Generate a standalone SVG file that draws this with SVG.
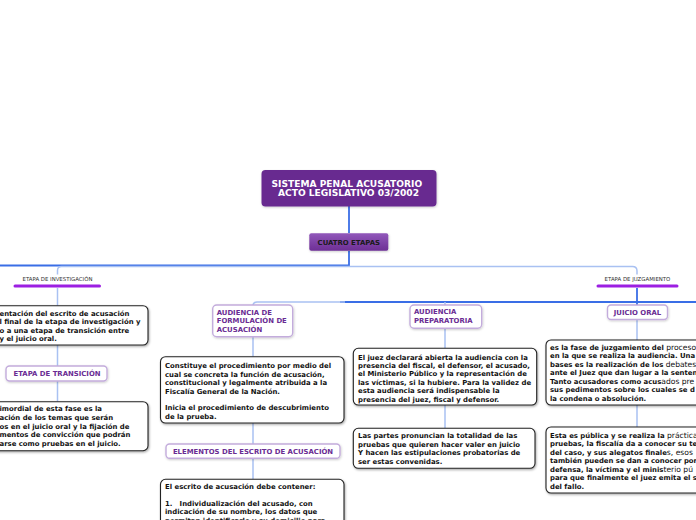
<svg xmlns="http://www.w3.org/2000/svg" width="696" height="520" viewBox="0 0 696 520">
<defs>
<linearGradient id="gc" x1="0" y1="0" x2="0" y2="1"><stop offset="0" stop-color="#9157ba"/><stop offset="1" stop-color="#6d2f95"/></linearGradient>
<filter id="sh" x="-10%" y="-10%" width="130%" height="140%"><feDropShadow dx="0.8" dy="1.2" stdDeviation="0.8" flood-color="#000" flood-opacity="0.35"/></filter>
<filter id="sl" x="-10%" y="-10%" width="130%" height="140%"><feDropShadow dx="0.6" dy="1" stdDeviation="0.8" flood-color="#000" flood-opacity="0.2"/></filter>
<style>
.dk{fill:none;stroke:#3a6ee6;stroke-width:1.8}
.lt{fill:none;stroke:#a9c1f2;stroke-width:1.5}
.tb{fill:#fff;stroke:#222;stroke-width:1.1}
.lb{fill:#fff;stroke:#c3acdc;stroke-width:1.4}
.t{font-family:"DejaVu Sans",Verdana,sans-serif;font-weight:bold;font-size:6.9px;fill:#111}
.n{font-weight:normal;font-size:7.6px}
.p{font-family:"DejaVu Sans",Verdana,sans-serif;font-weight:bold;font-size:6.9px;fill:#6a2c93}
.et{font-family:"DejaVu Sans",Verdana,sans-serif;font-size:5.4px;fill:#333;text-anchor:middle}
.ul{stroke:#9c1fe2;stroke-width:3;stroke-linecap:round}
</style>
</defs>
<rect width="696" height="520" fill="#fff"/>
<g id="connectors">
<path class="dk" d="M349,206V233"/>
<path class="dk" d="M349,251V265.5H0"/>
<path class="lt" d="M349,266.5H61.5Q57.5,266.5 57.5,270.5V274.5"/>
<path class="lt" d="M57.5,288V305.7"/>
<path class="lt" d="M349,266.5H632.5Q637,266.5 637,271V274.5"/>
<path class="dk" d="M637,288V305"/>
<path class="dk" d="M340,302H696"/>
<path class="lt" d="M345,302H257Q253,302 253,306"/>
<path class="lt" d="M445,302V305"/>
<path class="lt" d="M57.5,345V366M57.5,381V401.7"/>
<path class="lt" d="M253,336.7V356.7M253,423V444M253,458.3V479.3"/>
<path class="lt" d="M445,328.3V348.3M445,405V428.3"/>
<path class="lt" d="M637,319V340M637,405V427"/>
</g>
<g id="root">
<rect x="261.5" y="170" width="175" height="36.5" rx="4" fill="#672c90" filter="url(#sl)"/>
<text class="t" x="271.5" y="186.8" style="font-size:9.1px;fill:#fff">SISTEMA PENAL ACUSATORIO</text>
<text class="t" x="278" y="196.2" style="font-size:9.1px;fill:#fff">ACTO LEGISLATIVO 03/2002</text>
</g>
<g id="cuatro-etapas">
<rect x="309.3" y="233.3" width="79" height="17.4" rx="2" fill="url(#gc)" filter="url(#sl)"/>
<text class="t" x="348.8" y="244.6" text-anchor="middle" style="fill:#1a1a1a">CUATRO ETAPAS</text>
</g>
<g id="etapa-investigacion">
<text class="et" x="57.5" y="281">ETAPA DE INVESTIGACIÓN</text>
<line class="ul" x1="15" y1="286" x2="99.5" y2="286"/>
</g>
<g id="etapa-juzgamiento">
<text class="et" x="637.5" y="281">ETAPA DE JUZGAMIENTO</text>
<line class="ul" x1="598" y1="286" x2="677" y2="286"/>
</g>
<g id="investigacion-texto">
<rect class="tb" x="-20" y="305.7" width="168" height="39.3" rx="5" filter="url(#sh)"/>
<text class="t" x="-0.5" y="315.5">entación del escrito de acusación</text>
<text class="t" x="-0.5" y="324">l final de la etapa de investigación y</text>
<text class="t" x="-0.5" y="332.5">o a una etapa de transición entre</text>
<text class="t" x="-0.5" y="341">y el juicio oral.</text>
</g>
<g id="etapa-transicion">
<rect class="lb" x="6" y="366" width="101" height="15" rx="3.5" filter="url(#sl)"/>
<text class="p" x="57" y="376" text-anchor="middle">ETAPA DE TRANSICIÓN</text>
</g>
<g id="transicion-texto">
<rect class="tb" x="-20" y="401.7" width="168" height="49" rx="5" filter="url(#sh)"/>
<text class="t" x="-0.5" y="411">imordial de esta fase es la</text>
<text class="t" x="-0.5" y="419.8">ación de los temas que serán</text>
<text class="t" x="-0.5" y="428.6">os en el juicio oral y la fijación de</text>
<text class="t" x="-0.5" y="437.4">mentos de convicción que podrán</text>
<text class="t" x="-0.5" y="446.2">arse como pruebas en el juicio.</text>
</g>
<g id="audiencia-formulacion">
<rect class="lb" x="212.7" y="305" width="80" height="31.7" rx="4" filter="url(#sl)"/>
<text class="p" x="216.7" y="314.8">AUDIENCIA DE</text>
<text class="p" x="216.7" y="323.2">FORMULACIÓN DE</text>
<text class="p" x="216.7" y="331.6">ACUSACIÓN</text>
</g>
<g id="formulacion-texto">
<rect class="tb" x="160.5" y="356.7" width="183.5" height="66.3" rx="5" filter="url(#sh)"/>
<text class="t" x="165" y="368">Constituye el procedimiento por medio del</text>
<text class="t" x="165" y="376.5">cual se concreta la función de acusación,</text>
<text class="t" x="165" y="385">constitucional y legalmente atribuida a la</text>
<text class="t" x="165" y="393.5">Fiscalía General de la Nación.</text>
<text class="t" x="165" y="410">Inicia el procedimiento de descubrimiento</text>
<text class="t" x="165" y="418.5">de la prueba.</text>
</g>
<g id="elementos">
<rect class="lb" x="166" y="444" width="174" height="14.3" rx="3.5" filter="url(#sl)"/>
<text class="p" x="253" y="454.2" text-anchor="middle">ELEMENTOS DEL ESCRITO DE ACUSACIÓN</text>
</g>
<g id="elementos-texto">
<rect class="tb" x="160.5" y="479.3" width="183.5" height="60" rx="5" filter="url(#sh)"/>
<text class="t" x="165" y="488.6">El escrito de acusación debe contener:</text>
<text class="t" x="165" y="505.6">1.&#160;&#160; Individualización del acusado, con</text>
<text class="t" x="165" y="514.1">indicación de su nombre, los datos que</text>
<text class="t" x="165" y="522.6">permitan identificarlo y su domicilio para</text>
</g>
<g id="audiencia-preparatoria">
<rect class="lb" x="410" y="305" width="71.7" height="23.3" rx="4" filter="url(#sl)"/>
<text class="p" x="414" y="314.3">AUDIENCIA</text>
<text class="p" x="414" y="322.7">PREPARATORIA</text>
</g>
<g id="preparatoria-texto-1">
<rect class="tb" x="353.3" y="348.3" width="183.4" height="56.7" rx="5" filter="url(#sh)"/>
<text class="t" x="358" y="359.6">El juez declarará abierta la audiencia con la</text>
<text class="t" x="358" y="368">presencia del fiscal, el defensor, el acusado,</text>
<text class="t" x="358" y="376.4">el Ministerio Público y la representación de</text>
<text class="t" x="358" y="384.8">las víctimas, si la hubiere. Para la validez de</text>
<text class="t" x="358" y="393.2">esta audiencia será indispensable la</text>
<text class="t" x="358" y="401.6">presencia del juez, fiscal y defensor.</text>
</g>
<g id="preparatoria-texto-2">
<rect class="tb" x="353.3" y="428.3" width="181.7" height="40" rx="5" filter="url(#sh)"/>
<text class="t" x="358" y="438.2">Las partes pronuncian la totalidad de las</text>
<text class="t" x="358" y="446.8">pruebas que quieren hacer valer en juicio</text>
<text class="t" x="358" y="455.4">Y hacen las estipulaciones probatorias de</text>
<text class="t" x="358" y="464">ser estas convenidas.</text>
</g>
<g id="juicio-oral">
<rect class="lb" x="607.5" y="305" width="60" height="14.5" rx="3.5" filter="url(#sl)"/>
<text class="p" x="637.5" y="315" text-anchor="middle">JUICIO ORAL</text>
</g>
<g id="juicio-texto-1">
<rect class="tb" x="546" y="340" width="180" height="65" rx="5" filter="url(#sh)"/>
<text class="t" x="550" y="349.5">es la fase de juzgamiento del <tspan class="n">proceso</tspan></text>
<text class="t" x="550" y="358">en la que se realiza la audiencia. Una</text>
<text class="t" x="550" y="366.5">bases es la realización de los <tspan class="n">debates</tspan></text>
<text class="t" x="550" y="375">ante el Juez que dan lugar a la senten</text>
<text class="t" x="550" y="383.5">Tanto acusadores como acus<tspan class="n">ados pre</tspan></text>
<text class="t" x="550" y="392">sus pedimentos sobre los cuales se d</text>
<text class="t" x="550" y="400.5">la condena o absolución.</text>
</g>
<g id="juicio-texto-2">
<rect class="tb" x="546" y="427" width="180" height="66" rx="5" filter="url(#sh)"/>
<text class="t" x="550" y="437.5">Esta es pública y se realiza la <tspan class="n">práctica</tspan></text>
<text class="t" x="550" y="446">pruebas, la fiscalía da a conocer su te</text>
<text class="t" x="550" y="454.5">del caso, y sus alegatos finale<tspan class="n">s, esos</tspan></text>
<text class="t" x="550" y="463">también pueden se dan a conocer por</text>
<text class="t" x="550" y="471.5">defensa, la víctima y el minis<tspan class="n">terio pú</tspan></text>
<text class="t" x="550" y="480">para que finalmente el juez emita el s</text>
<text class="t" x="550" y="488.5">del fallo.</text>
</g>
</svg>
